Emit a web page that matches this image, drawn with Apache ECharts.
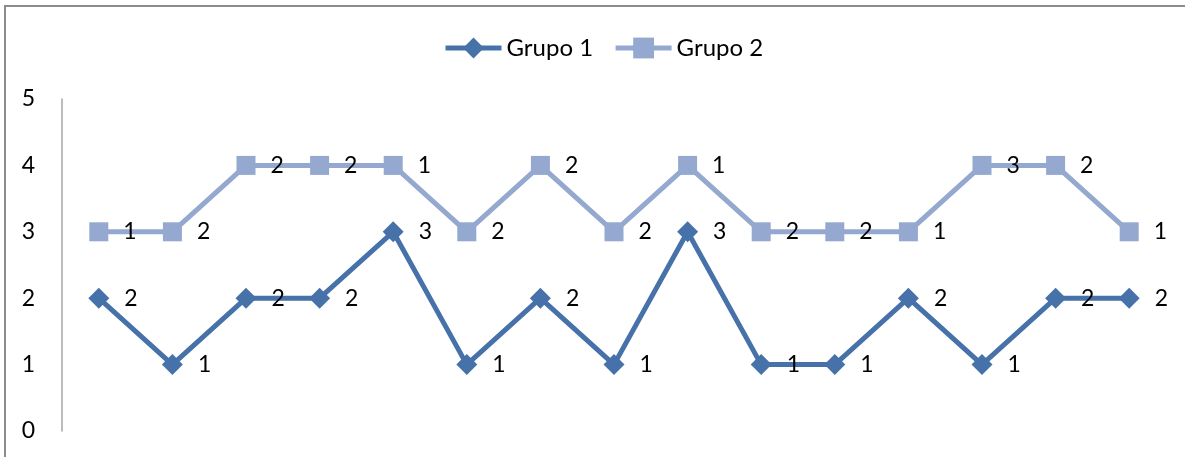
<!DOCTYPE html>
<html>
<head>
<meta charset="utf-8">
<script src="https://cdn.jsdelivr.net/npm/echarts@6/dist/echarts.min.js"></script>
<style>
  html, body { margin: 0; padding: 0; background: #fff; }
  #frame { position: absolute; left: 4px; top: 5px; width: 1181px; height: 452px;
           border-top: 2px solid #8c8c8c; border-left: 2px solid #8c8c8c; box-sizing: border-box; }
  #chart { position: absolute; left: 0; top: 0; width: 1185px; height: 457px; }
</style>
</head>
<body>
<div id="frame"></div>
<div id="chart"></div>
<script>
const categories = ['1','2','3','4','5','6','7','8','9','10','11','12','13','14','15'];
const grupo1 = [2, 1, 2, 2, 3, 1, 2, 1, 3, 1, 1, 2, 1, 2, 2];
const grupo2 = [1, 2, 2, 2, 1, 2, 2, 2, 1, 2, 2, 1, 3, 2, 1];
const yTicks = { min: 0, max: 5, interval: 1 };

const FONT = 'Lato';
const chart = echarts.init(document.getElementById('chart'), null, { renderer: 'canvas' });
const labelStyle = { show: true, position: 'right', distance: 15, color: '#000', fontFamily: FONT, fontSize: 23 };

chart.setOption({
  animation: false,
  backgroundColor: 'transparent',
  legend: {
    top: 31,
    left: 438,
    itemWidth: 56,
    itemHeight: 26,
    itemGap: 20,
    lineStyle: { width: 5 },
    textStyle: { fontFamily: FONT, fontSize: 24, color: '#000' },
    data: ['Grupo 1', 'Grupo 2']
  },
  grid: { left: 62, right: 19, top: 99, bottom: 26 },
  xAxis: {
    type: 'category',
    data: categories,
    boundaryGap: true,
    axisLine: { show: false },
    axisTick: { show: false },
    axisLabel: { show: false },
    splitLine: { show: false }
  },
  yAxis: {
    type: 'value',
    min: yTicks.min, max: yTicks.max, interval: yTicks.interval,
    axisLine: { show: true, lineStyle: { color: '#a6a6a6', width: 1.5 } },
    axisTick: { show: false },
    splitLine: { show: false },
    axisLabel: { margin: 27, color: '#000', fontFamily: FONT, fontSize: 23 }
  },
  series: [
    {
      name: 'Grupo 1', type: 'line', stack: 'total', data: grupo1,
      symbol: 'diamond', symbolSize: 21,
      itemStyle: { color: '#4672a9' },
      lineStyle: { color: '#4672a9', width: 5 },
      label: labelStyle,
      z: 3
    },
    {
      name: 'Grupo 2', type: 'line', stack: 'total', data: grupo2,
      symbol: 'rect', symbolSize: 19,
      itemStyle: { color: '#94a8d0' },
      lineStyle: { color: '#94a8d0', width: 5 },
      label: labelStyle,
      z: 2
    }
  ]
});
</script>
</body>
</html>
